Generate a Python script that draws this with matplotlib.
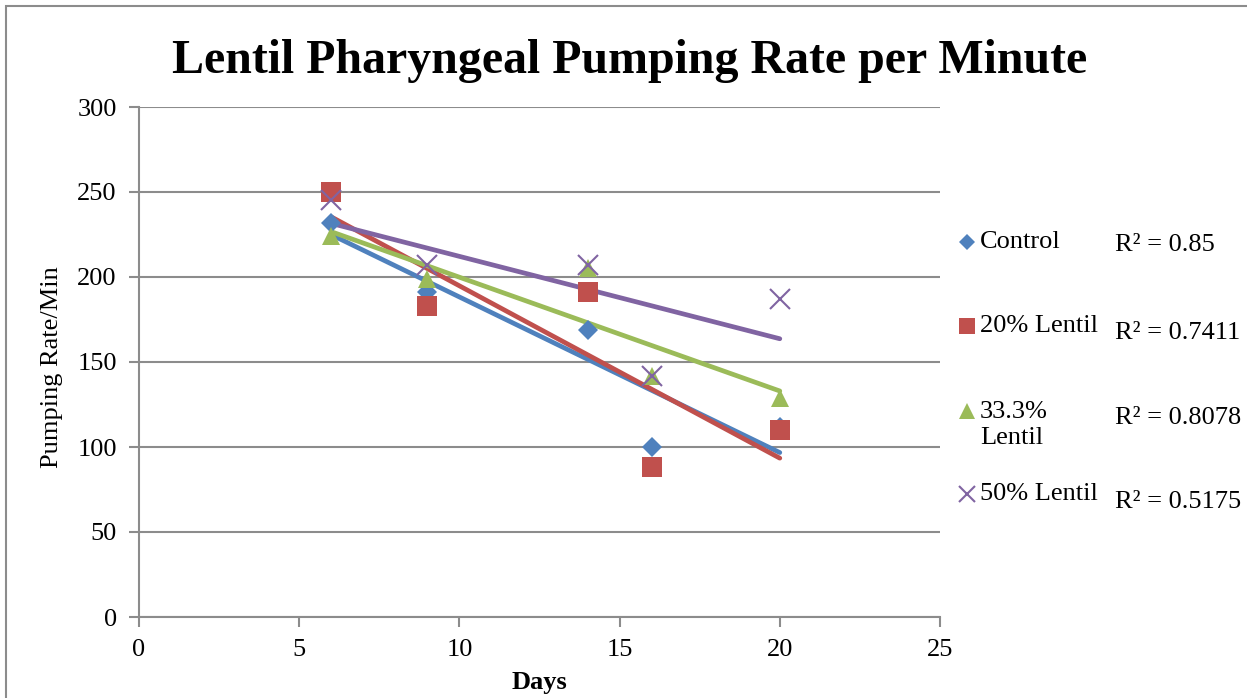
import numpy as np
import matplotlib.pyplot as plt
from matplotlib.lines import Line2D
from matplotlib.patches import Rectangle

plt.rcParams['font.family'] = ['Liberation Serif', 'DejaVu Serif']

days = [6, 9, 14, 16, 20]
control = [232, 191, 169, 100, 112]
lentil_20 = [250, 183, 191, 88, 110]
lentil_33 = [224, 199, 205, 142, 129]
lentil_50 = [245, 207, 207, 142, 187]

labels = ['Control', '20% Lentil', '33.3%\nLentil', '50% Lentil']
r2_labels = ['R² = 0.85', 'R² = 0.7411', 'R² = 0.8078', 'R² = 0.5175']

colors = ['#4F81BD', '#C0504D', '#9BBB59', '#8064A2']
markers = ['D', 's', '^', 'x']
msizes = [10.5, 14, 13, 14]
leg_sizes = [8, 11.5, 11, 12]

W, H = 1247, 698
fig = plt.figure(figsize=(W / 100, H / 100), dpi=100)
ax = fig.add_axes([139 / W, 1 - 617 / H, 801 / W, 510 / H])

# outer chart border
fig.add_artist(Rectangle((6 / W, -0.01), 1.2, 1 - 6 / H + 0.01,
                         transform=fig.transFigure, fill=False,
                         edgecolor='#8c8c8c', linewidth=1.5))

series = [control, lentil_20, lentil_33, lentil_50]
for ys, c in zip(series, colors):
    # linear trendline
    k, b = np.polyfit(days, ys, 1)
    xs = np.array([days[0], days[-1]])
    ax.plot(xs, k * xs + b, color=c, linewidth=3.4, solid_capstyle='round', zorder=2)
for ys, c, m, ms in zip(series, colors, markers, msizes):
    if m == 'x':
        ax.plot(days, ys, linestyle='none', marker=m, markersize=ms,
                markeredgecolor=c, markeredgewidth=1.5, zorder=3)
    else:
        ax.plot(days, ys, linestyle='none', marker=m, markersize=ms,
                color=c, markeredgewidth=0, zorder=3)

ax.set_xlim(0, 25)
ax.set_ylim(0, 300)
ax.set_xticks(range(0, 26, 5))
ax.set_yticks(range(0, 301, 50))
ax.yaxis.grid(True, color='#8c8c8c', linewidth=1.5)
ax.set_axisbelow(True)
for s in ['top', 'right']:
    ax.spines[s].set_visible(False)
for s in ['left', 'bottom']:
    ax.spines[s].set_color('#8c8c8c')
    ax.spines[s].set_linewidth(1.5)
ax.tick_params(direction='out', length=7, width=1.5, color='#8c8c8c',
               labelsize=19, pad=9)

ax.set_xlabel('Days', fontsize=19, fontweight='bold')
ax.set_ylabel('Pumping Rate/Min', fontsize=19)
ax.xaxis.set_label_coords(0.5, (617 - 671) / 510)
ax.yaxis.set_label_coords((63 - 139) / 801, 0.49)
fig.text(630 / W, 1 - 73 / H, 'Lentil Pharyngeal Pumping Rate per Minute',
         ha='center', va='baseline', fontsize=34.5, fontweight='bold')

# legend and R² values
leg_y = [242, 326, 425, 494]
mark_y = [242, 326, 411, 494]
r2_y = [245, 333, 418, 502]
for i in range(4):
    ym = 1 - mark_y[i] / H
    if markers[i] == 'x':
        mk = Line2D([967 / W], [ym], marker='x', markersize=leg_sizes[i],
                    markeredgecolor=colors[i], markeredgewidth=1.5,
                    linestyle='none', transform=fig.transFigure)
    else:
        mk = Line2D([967 / W], [ym], marker=markers[i], markersize=leg_sizes[i],
                    color=colors[i], markeredgewidth=0,
                    linestyle='none', transform=fig.transFigure)
    fig.add_artist(mk)
    fig.text(980 / W, 1 - leg_y[i] / H, labels[i], ha='left', va='center',
             fontsize=19, linespacing=1.25)
    fig.text(1115 / W, 1 - r2_y[i] / H, r2_labels[i], ha='left', va='center',
             fontsize=19)

fig.savefig('out.png', dpi=100)
